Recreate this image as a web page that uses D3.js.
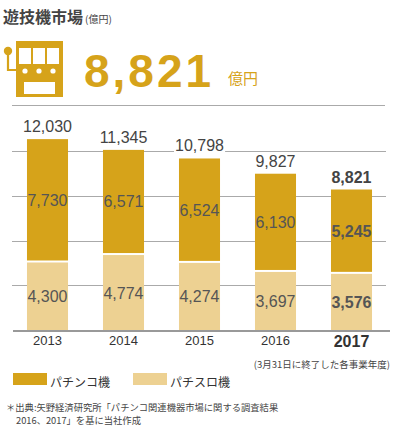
<!DOCTYPE html>
<html>
<head>
<meta charset="utf-8">
<script src="https://cdn.jsdelivr.net/npm/d3@7"></script>
<style>
  body { margin: 0; background: #fff; }
  svg { display: block; }
</style>
</head>
<body>
<div class="chart"></div>
<script>
const years = ["2013", "2014", "2015", "2016", "2017"];
const pachinko = [7730, 6571, 6524, 6130, 5245];
const pachislot = [4300, 4774, 4274, 3697, 3576];
const totals = [12030, 11345, 10798, 9827, 8821];
const gridValues = [2850, 5700, 8550, 11400];
const legendLabels = ["パチンコ機", "パチスロ機"];

const gold = "#D6A31A";
const light = "#EDD192";
const jp = "'Noto Sans CJK JP', sans-serif";
const num = "'Liberation Sans', Arial, sans-serif";

const svg = d3.select(".chart").append("svg").attr("width", 400).attr("height", 436);

// header
svg.append("text")
  .attr("x", 3).attr("y", 23)
  .style("font-family", jp).style("font-size", "16px").style("font-weight", "bold")
  .style("fill", "#444")
  .text("遊技機市場")
  .append("tspan")
  .attr("dx", 2)
  .style("font-size", "10px").style("font-weight", "normal")
  .text("(億円)");

// slot machine icon
const icon = svg.append("g");
icon.append("rect").attr("x", 16).attr("y", 41).attr("width", 47).attr("height", 56).attr("fill", gold);
[19, 33, 47].forEach(x => {
  icon.append("rect").attr("x", x).attr("y", 48).attr("width", 12).attr("height", 16).attr("fill", "#fff");
});
[25, 39, 53].forEach(x => {
  icon.append("circle").attr("cx", x).attr("cy", 71).attr("r", 2.6).attr("fill", "#fff");
});
icon.append("rect").attr("x", 24).attr("y", 82).attr("width", 31).attr("height", 12).attr("fill", "#fff");
icon.append("path").attr("d", "M8,51 V70 H16").attr("fill", "none").attr("stroke", gold).attr("stroke-width", 2.2);
icon.append("circle").attr("cx", 8).attr("cy", 51).attr("r", 4.2).attr("fill", gold);

svg.append("text")
  .attr("x", 84).attr("y", 87)
  .style("font-family", num).style("font-size", "46px").style("font-weight", "bold")
  .style("letter-spacing", "3px")
  .style("fill", gold)
  .text(d3.format(",")(totals[totals.length - 1]));

svg.append("text")
  .attr("x", 228).attr("y", 84)
  .style("font-family", jp).style("font-size", "15px")
  .style("fill", gold)
  .text("億円");

svg.append("line")
  .attr("x1", 12).attr("x2", 385).attr("y1", 105.5).attr("y2", 105.5)
  .attr("stroke", "#aaa").attr("stroke-width", 1);

// scales
const x = d3.scaleBand().domain(years).range([9.5, 389.5]).paddingInner(0.46).paddingOuter(0.23);
const y = d3.scaleLinear().domain([0, 12000]).range([330, 141.6]);
const gap = 2;

// gridlines
svg.append("g").selectAll("line").data(gridValues).join("line")
  .attr("x1", 12).attr("x2", 386)
  .attr("y1", d => Math.round(y(d)) + 0.5).attr("y2", d => Math.round(y(d)) + 0.5)
  .attr("stroke", "#aaa").attr("stroke-width", 1);

const rows = years.map((yr, i) => ({ yr, pk: pachinko[i], ps: pachislot[i], total: totals[i], last: i === years.length - 1 }));

// bars
svg.append("g").selectAll("rect").data(rows).join("rect")
  .attr("x", d => x(d.yr)).attr("width", x.bandwidth())
  .attr("y", d => y(d.ps)).attr("height", d => y(0) - y(d.ps))
  .attr("fill", light);

svg.append("g").selectAll("rect").data(rows).join("rect")
  .attr("x", d => x(d.yr)).attr("width", x.bandwidth())
  .attr("y", d => y(d.ps + d.pk) - gap).attr("height", d => y(d.ps) - y(d.ps + d.pk))
  .attr("fill", gold);

// baseline
svg.append("line")
  .attr("x1", 13).attr("x2", 390).attr("y1", 331).attr("y2", 331)
  .attr("stroke", "#999").attr("stroke-width", 2);

const fmt = d3.format(",");

// segment labels
svg.append("g").selectAll("text").data(rows).join("text")
  .attr("x", d => x(d.yr) + x.bandwidth() / 2)
  .attr("y", d => (y(0) + y(d.ps)) / 2 + 6)
  .attr("text-anchor", "middle")
  .style("font-family", num).style("font-size", "16px")
  .style("font-weight", d => d.last ? "bold" : "normal")
  .style("fill", "#555")
  .text(d => fmt(d.ps));

svg.append("g").selectAll("text").data(rows).join("text")
  .attr("x", d => x(d.yr) + x.bandwidth() / 2)
  .attr("y", d => (y(d.ps) + y(d.ps + d.pk)) / 2 - gap + 6)
  .attr("text-anchor", "middle")
  .style("font-family", num).style("font-size", "16px")
  .style("font-weight", d => d.last ? "bold" : "normal")
  .style("fill", "#555")
  .text(d => fmt(d.pk));

// total labels with white backing over gridlines
const totalG = svg.append("g").selectAll("g").data(rows).join("g");
const totalText = totalG.append("text")
  .attr("x", d => x(d.yr) + x.bandwidth() / 2)
  .attr("y", d => y(d.total) - gap - 7)
  .attr("text-anchor", "middle")
  .style("font-family", num).style("font-size", "16px")
  .style("font-weight", d => d.last ? "bold" : "normal")
  .style("fill", "#444")
  .text(d => fmt(d.total));
totalText.each(function () {
  const b = this.getBBox();
  d3.select(this.parentNode).insert("rect", "text")
    .attr("x", b.x - 1).attr("y", b.y + 2).attr("width", b.width + 2).attr("height", b.height - 4)
    .attr("fill", "#fff");
});

// year labels
svg.append("g").selectAll("text").data(rows).join("text")
  .attr("x", d => x(d.yr) + x.bandwidth() / 2)
  .attr("y", d => d.last ? 347 : 345)
  .attr("text-anchor", "middle")
  .style("font-family", num)
  .style("font-size", d => d.last ? "16px" : "13px")
  .style("font-weight", d => d.last ? "bold" : "normal")
  .style("fill", "#333")
  .text(d => d.yr);

svg.append("text")
  .attr("x", 390).attr("y", 368)
  .attr("text-anchor", "end")
  .style("font-family", jp).style("font-size", "9.5px")
  .style("fill", "#444")
  .text("(3月31日に終了した各事業年度)");

// legend
const legend = svg.append("g").selectAll("g").data(legendLabels).join("g")
  .attr("transform", (d, i) => `translate(${13 + i * 120},373)`);
legend.append("rect").attr("width", 34).attr("height", 12)
  .attr("fill", (d, i) => i === 0 ? gold : light);
legend.append("text").attr("x", 37).attr("y", 14)
  .style("font-family", jp).style("font-size", "12px")
  .style("fill", "#333")
  .text(d => d);

// source note
svg.append("text")
  .attr("x", 6).attr("y", 411)
  .style("font-family", jp).style("font-size", "9.3px")
  .style("fill", "#444")
  .text("＊出典:矢野経済研究所「パチンコ関連機器市場に関する調査結果");
svg.append("text")
  .attr("x", 16).attr("y", 424)
  .style("font-family", jp).style("font-size", "9.3px")
  .style("fill", "#444")
  .text("2016、2017」を基に当社作成");
</script>
</body>
</html>
